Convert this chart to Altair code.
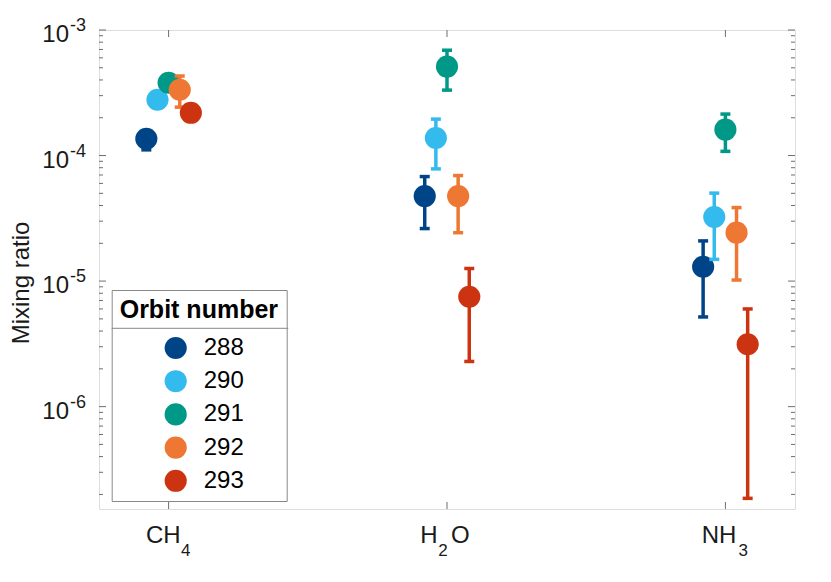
import altair as alt
import pandas as pd

# ---------------- data ----------------
categories = ["CH4", "H2O", "NH3"]
cat_pos = [1, 2, 3]
orbits = ["288", "290", "291", "292", "293"]
colors = ["#004488", "#33BBEE", "#009988", "#EE7733", "#CC3311"]
offsets = [-0.08, -0.04, 0.0, 0.04, 0.08]

values = {
    "288": [1.36e-4, 4.75e-5, 1.30e-5],
    "290": [2.78e-4, 1.38e-4, 3.24e-5],
    "291": [3.80e-4, 5.11e-4, 1.61e-4],
    "292": [3.34e-4, 4.75e-5, 2.43e-5],
    "293": [2.19e-4, 7.51e-6, 3.14e-6],
}
lower = {
    "288": [1.11e-4, 2.62e-5, 5.18e-6],
    "290": [2.55e-4, 7.83e-5, 1.49e-5],
    "291": [3.45e-4, 3.32e-4, 1.08e-4],
    "292": [2.43e-4, 2.43e-5, 1.02e-5],
    "293": [2.00e-4, 2.29e-6, 1.86e-7],
}
upper = {
    "288": [1.55e-4, 6.80e-5, 2.09e-5],
    "290": [3.00e-4, 1.95e-4, 5.02e-5],
    "291": [4.20e-4, 6.90e-4, 2.14e-4],
    "292": [4.30e-4, 6.93e-5, 3.85e-5],
    "293": [2.40e-4, 1.26e-5, 6.00e-6],
}

major_ticks = [1e-3, 1e-4, 1e-5, 1e-6]
tick_exps = ["-3", "-4", "-5", "-6"]
minor_ticks = [k * 10.0 ** e for e in (-7, -6, -5, -4) for k in range(2, 10)]

# x label pieces: text, category position, kind, align, dx
label_pieces = [
    ("CH", 1, "main", "right", 12.0),
    ("4", 1, "sub", "left", 12.5),
    ("H", 2, "main", "right", -9.5),
    ("2", 2, "sub", "left", -8.7),
    ("O", 2, "main", "left", 4.0),
    ("NH", 3, "main", "right", 11.0),
    ("3", 3, "sub", "left", 13.0),
]

# ---------------- layout ----------------
W, H = 696, 479
FONT = "Liberation Sans"
AX = "#6e6e6e"
TXT = "#1a1a1a"
ymin, ymax = 1.53e-7, 1e-3

xsc = alt.Scale(domain=[0.75, 3.25], nice=False, zero=False)
ysc = alt.Scale(type="log", domain=[ymin, ymax], nice=False)

rows = []
for i, o in enumerate(orbits):
    for j, c in enumerate(categories):
        rows.append({"orbit": o, "cat": c, "x": cat_pos[j] + offsets[i],
                     "v": values[o][j], "lo": lower[o][j], "hi": upper[o][j]})
df = pd.DataFrame(rows)

leg = alt.Legend(
    orient="none", legendX=12.7, legendY=260,
    title="Orbit number", titleFontSize=25, titleFontWeight="bold",
    titleAnchor="start", titleFont=FONT, titleColor="black", titlePadding=13,
    labelFontSize=24, labelFont=FONT, labelColor="black",
    symbolSize=490, symbolType="circle", symbolStrokeWidth=0,
    symbolOffset=44, labelOffset=16, rowPadding=9.2, padding=8,
    strokeColor="#888888", titleLimit=0, labelLimit=0,
)

layers = []

# frame ticks (inside the box, on all four sides)
maj = pd.DataFrame({"t": major_ticks})
mnr = pd.DataFrame({"t": [t for t in minor_ticks if ymin <= t <= ymax]})
for d, L in ((maj, 7), (mnr, 4)):
    layers.append(alt.Chart(d).mark_rule(color=AX, strokeWidth=1).encode(
        x=alt.value(0), x2=alt.value(L), y=alt.Y("t:Q", scale=ysc, axis=None)))
    layers.append(alt.Chart(d).mark_rule(color=AX, strokeWidth=1).encode(
        x=alt.value(W - L), x2=alt.value(W), y=alt.Y("t:Q", scale=ysc, axis=None)))
cats = pd.DataFrame({"x": cat_pos})
layers.append(alt.Chart(cats).mark_rule(color=AX, strokeWidth=1).encode(
    x=alt.X("x:Q", scale=xsc, axis=None), y=alt.value(H), y2=alt.value(H - 7)))
layers.append(alt.Chart(cats).mark_rule(color=AX, strokeWidth=1).encode(
    x=alt.X("x:Q", scale=xsc, axis=None), y=alt.value(0), y2=alt.value(7)))

# y tick labels 10^n
yl = pd.DataFrame({"t": major_ticks, "base": ["10"] * 4, "exp": tick_exps})
layers.append(alt.Chart(yl).mark_text(align="right", baseline="alphabetic", fontSize=24,
                                      font=FONT, color=TXT, dy=12).encode(
    x=alt.value(-30), y=alt.Y("t:Q", scale=ysc, axis=None), text="base:N"))
layers.append(alt.Chart(yl).mark_text(align="left", baseline="alphabetic", fontSize=18,
                                      font=FONT, color=TXT, dy=1).encode(
    x=alt.value(-29), y=alt.Y("t:Q", scale=ysc, axis=None), text="exp:N"))

# x labels with subscripts
for txt, pos, kind, al, dx in label_pieces:
    d = pd.DataFrame({"x": [pos], "s": [txt]})
    layers.append(alt.Chart(d).mark_text(
        align=al, baseline="alphabetic", fontSize=24 if kind == "main" else 17,
        font=FONT, color=TXT, dx=dx).encode(
        x=alt.X("x:Q", scale=xsc, axis=None),
        y=alt.value(512.5 if kind == "main" else 526), text="s:N"))

# y title
layers.append(alt.Chart(pd.DataFrame({"s": ["Mixing ratio"]})).mark_text(
    angle=270, align="center", baseline="alphabetic", fontSize=24, font=FONT,
    color=TXT).encode(x=alt.value(-70), y=alt.value(253), text="s:N"))

# legend header separator
layers.append(alt.Chart(pd.DataFrame({"a": [0]})).mark_rule(color="#888888", strokeWidth=1).encode(
    x=alt.value(12.7), x2=alt.value(189.3), y=alt.value(298.3)))

# data: error bars and points, series by series
for i, o in enumerate(orbits):
    base = alt.Chart(df[df["orbit"] == o])
    X = alt.X("x:Q", scale=xsc, axis=None)
    layers.append(base.mark_rule(strokeWidth=3.5, color=colors[i]).encode(
        x=X, y=alt.Y("lo:Q", scale=ysc, axis=None), y2="hi:Q"))
    for f in ("lo", "hi"):
        layers.append(base.mark_tick(orient="horizontal", size=10, thickness=3.5,
                                     color=colors[i], opacity=1).encode(
            x=X, y=alt.Y(f + ":Q", scale=ysc, axis=None)))
    layers.append(base.mark_circle(size=490, opacity=1).encode(
        x=X, y=alt.Y("v:Q", scale=ysc, axis=None),
        color=alt.Color("orbit:N", scale=alt.Scale(domain=orbits, range=colors), legend=leg)))

chart = alt.layer(*layers).properties(
    width=W, height=H,
    autosize=alt.AutoSizeParams(type="none"),
    padding={"left": 91, "top": 22, "right": 20, "bottom": 62},
).configure_view(stroke="#8a8a8a", strokeWidth=1).configure(font=FONT)

chart.save("out.html", embed_options={"renderer": "svg", "actions": False})
